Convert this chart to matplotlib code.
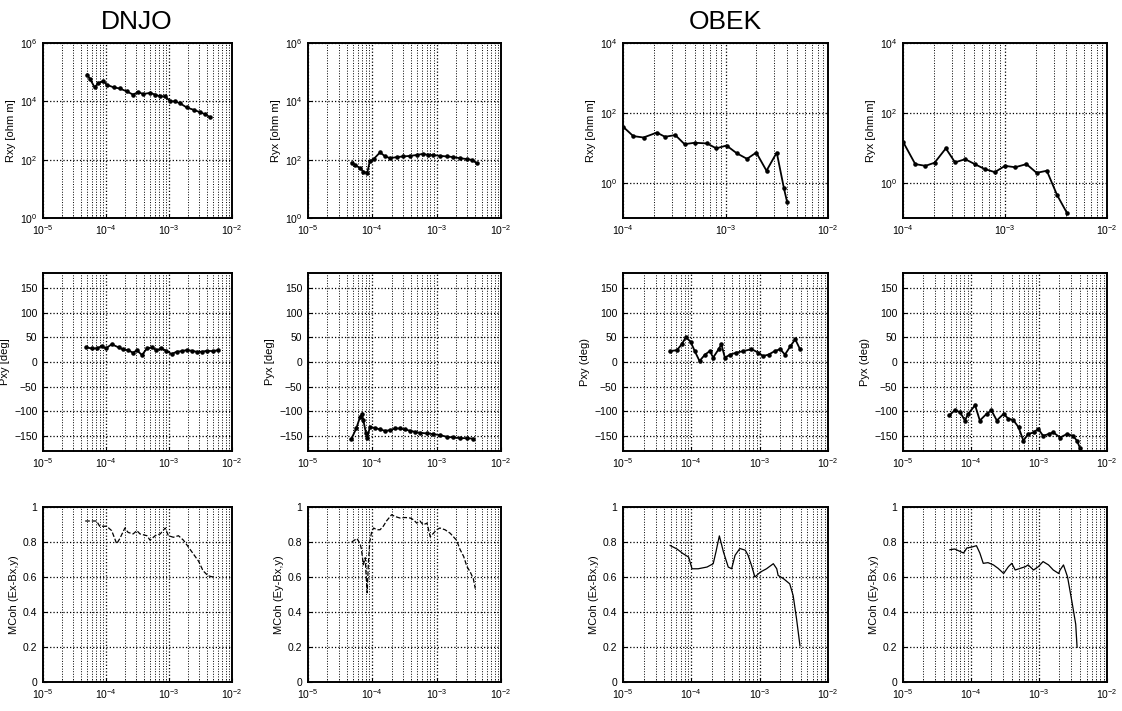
import numpy as np
import matplotlib
matplotlib.use('Agg')
import matplotlib.pyplot as plt
from matplotlib.ticker import LogLocator, NullLocator, LogFormatterMathtext, NullFormatter

# ---- data (log10 of frequency [Hz]) ----
# DNJO apparent resistivity
dnjo_rxy_logf = [-4.30, -4.25, -4.18, -4.12, -4.04, -3.99, -3.88, -3.78, -3.67, -3.57, -3.49, -3.41,
                 -3.30, -3.22, -3.14, -3.06, -2.98, -2.91, -2.83, -2.72, -2.61, -2.51, -2.43, -2.35]
dnjo_rxy_logr = [4.92, 4.75, 4.48, 4.63, 4.69, 4.57, 4.48, 4.44, 4.34, 4.23, 4.32, 4.25,
                 4.29, 4.23, 4.17, 4.17, 4.00, 4.00, 3.94, 3.79, 3.71, 3.63, 3.56, 3.46]
dnjo_ryx_logf = [-4.32, -4.27, -4.19, -4.14, -4.08, -4.04, -3.98, -3.88, -3.80, -3.72, -3.62, -3.52,
                 -3.41, -3.31, -3.21, -3.13, -3.05, -2.95, -2.84, -2.74, -2.64, -2.53, -2.45, -2.38]
dnjo_ryx_logr = [1.90, 1.82, 1.71, 1.59, 1.54, 1.94, 2.02, 2.25, 2.11, 2.05, 2.09, 2.11,
                 2.13, 2.16, 2.20, 2.16, 2.16, 2.13, 2.11, 2.09, 2.05, 2.02, 1.99, 1.88]

# OBEK apparent resistivity
obek_rxy_logf = [-4.00, -3.90, -3.80, -3.67, -3.59, -3.49, -3.40, -3.30, -3.18, -3.09, -2.99,
                 -2.89, -2.79, -2.70, -2.60, -2.50, -2.43, -2.40]
obek_rxy_logr = [1.61, 1.34, 1.30, 1.44, 1.32, 1.37, 1.11, 1.15, 1.13, 0.99, 1.07,
                 0.85, 0.69, 0.87, 0.35, 0.87, -0.15, -0.53]
obek_ryx_logf = [-4.00, -3.88, -3.78, -3.69, -3.58, -3.49, -3.39, -3.29, -3.20, -3.10, -3.00,
                 -2.90, -2.79, -2.69, -2.59, -2.49, -2.39]
obek_ryx_logr = [1.18, 0.54, 0.49, 0.58, 0.99, 0.59, 0.68, 0.53, 0.40, 0.31, 0.49,
                 0.45, 0.54, 0.29, 0.35, -0.34, -0.87]

# phases [deg]
dnjo_pxy_logf = [-4.31, -4.23, -4.15, -4.07, -4.00, -3.91, -3.80, -3.73, -3.65, -3.57, -3.51, -3.43,
                 -3.35, -3.27, -3.20, -3.12, -3.04, -2.96, -2.88, -2.80, -2.72, -2.64, -2.56, -2.48,
                 -2.40, -2.30, -2.22]
dnjo_pxy = [29.5, 27.5, 27.5, 32, 27.5, 36, 29.5, 25.5, 24, 18.6, 24, 14,
            27.5, 29.5, 24, 27.5, 22.7, 16, 20.7, 22, 24, 22.7, 20.7, 20.7,
            22.7, 22, 24]
dnjo_pyx_logf = [-4.33, -4.25, -4.19, -4.16, -4.14, -4.10, -4.08, -4.04, -3.96, -3.88, -3.80, -3.72,
                 -3.65, -3.57, -3.49, -3.41, -3.34, -3.26, -3.15, -3.05, -2.95, -2.84, -2.74, -2.64,
                 -2.53, -2.43]
dnjo_pyx = [-156.7, -134.4, -110.9, -105.4, -117.6, -143.2, -154.7, -132.4, -133.1, -136.5, -139.2, -137.8,
            -134.4, -134.4, -136.5, -139.2, -141.2, -143.2, -144.5, -145.9, -147.9, -151.3, -152.6, -154,
            -154, -155]
obek_pxy_logf = [-4.31, -4.21, -4.14, -4.08, -4.01, -3.95, -3.88, -3.80, -3.73, -3.68, -3.60, -3.56,
                 -3.51, -3.43, -3.34, -3.24, -3.12, -3.02, -2.95, -2.87, -2.78, -2.70, -2.63, -2.55,
                 -2.48, -2.41]
obek_pxy = [22, 24, 36, 50, 41, 22, 2, 15, 22, 9, 26, 36,
            9, 15, 19, 22, 26, 19, 12, 15, 22, 26, 15, 32,
            46, 26]
obek_pyx_logf = [-4.32, -4.24, -4.16, -4.09, -4.04, -3.94, -3.87, -3.77, -3.70, -3.62, -3.52, -3.45,
                 -3.38, -3.30, -3.23, -3.16, -3.08, -3.01, -2.94, -2.86, -2.79, -2.69, -2.59, -2.50,
                 -2.44, -2.40]
obek_pyx = [-108, -97.8, -101.3, -118.4, -104.7, -87.5, -118.4, -104.7, -97.8, -118.4, -104.7, -115,
            -117, -132.1, -159.2, -145.8, -142.4, -135.5, -149.2, -145.8, -142.4, -152.7, -145.8, -149.2,
            -159.5, -173.3]

# multiple coherences
dnjo_cohx_logf = [-4.33, -4.25, -4.15, -4.10, -3.99, -3.91, -3.83, -3.78, -3.70, -3.65, -3.57, -3.51,
                  -3.46, -3.35, -3.30, -3.22, -3.14, -3.06, -3.01, -2.93, -2.85, -2.77, -2.69, -2.61,
                  -2.53, -2.46, -2.38, -2.30]
dnjo_cohx = [0.92, 0.92, 0.92, 0.89, 0.89, 0.865, 0.79, 0.82, 0.88, 0.855, 0.846, 0.865,
             0.846, 0.836, 0.81, 0.836, 0.846, 0.88, 0.836, 0.827, 0.836, 0.81, 0.77, 0.73,
             0.69, 0.636, 0.607, 0.60]
dnjo_cohy_logf = [-4.32, -4.24, -4.19, -4.17, -4.14, -4.11, -4.10, -4.08, -4.06, -4.04, -4.01, -3.98,
                  -3.93, -3.88, -3.83, -3.78, -3.70, -3.65, -3.57, -3.49, -3.41, -3.36, -3.31, -3.26,
                  -3.21, -3.15, -3.10, -3.05, -3.00, -2.95, -2.87, -2.79, -2.74, -2.69, -2.64, -2.58,
                  -2.53, -2.48, -2.43, -2.40]
dnjo_cohy = [0.80, 0.82, 0.79, 0.76, 0.67, 0.71, 0.63, 0.51, 0.69, 0.80, 0.86, 0.88,
             0.87, 0.87, 0.89, 0.92, 0.956, 0.946, 0.937, 0.94, 0.937, 0.927, 0.908, 0.92,
             0.898, 0.908, 0.83, 0.85, 0.87, 0.88, 0.87, 0.85, 0.83, 0.81, 0.76, 0.717,
             0.66, 0.63, 0.59, 0.534]
obek_cohx_logf = [-4.31, -4.21, -4.12, -4.04, -3.99, -3.90, -3.77, -3.68, -3.64, -3.59, -3.53, -3.46,
                  -3.41, -3.36, -3.29, -3.21, -3.17, -3.12, -3.07, -2.99, -2.90, -2.80, -2.75, -2.73,
                  -2.65, -2.56, -2.51, -2.46, -2.41]
obek_cohx = [0.78, 0.76, 0.733, 0.714, 0.647, 0.647, 0.657, 0.676, 0.743, 0.835, 0.743, 0.657,
             0.647, 0.724, 0.763, 0.753, 0.724, 0.667, 0.60, 0.628, 0.647, 0.676, 0.647, 0.609,
             0.59, 0.561, 0.494, 0.36, 0.207]
obek_cohy_logf = [-4.31, -4.24, -4.16, -4.11, -4.06, -3.99, -3.92, -3.87, -3.82, -3.75, -3.67, -3.60,
                  -3.52, -3.45, -3.40, -3.35, -3.28, -3.20, -3.16, -3.08, -3.01, -2.94, -2.86, -2.79,
                  -2.71, -2.69, -2.64, -2.58, -2.51, -2.46, -2.44]
obek_cohy = [0.756, 0.76, 0.746, 0.737, 0.766, 0.771, 0.779, 0.737, 0.678, 0.682, 0.669, 0.649,
             0.62, 0.659, 0.678, 0.64, 0.649, 0.659, 0.669, 0.64, 0.659, 0.688, 0.669, 0.64,
             0.62, 0.64, 0.669, 0.60, 0.446, 0.33, 0.198]

ylabels = [['Rxy [ohm m]', 'Ryx [ohm m]', 'Rxy [ohm m]', 'Ryx [ohm.m]'],
           ['Pxy [deg]', 'Pyx [deg]', 'Pxy (deg)', 'Pyx (deg)'],
           ['MCoh (Ex-Bx,y)', 'MCoh (Ey-Bx,y)', 'MCoh (Ex-Bx,y)', 'MCoh (Ey-Bx,y)']]
station_names = ['DNJO', 'OBEK']

# axes boxes in pixels (left, top, width, height) of the 1122x711 figure
COL_X = [(43, 189), (308, 193), (623, 205), (903, 204)]
ROW_Y = [(43, 175), (273, 178), (507, 175)]
W, H = 1122., 711.


def style_axes(ax, xlim):
    ax.set_xscale('log')
    ax.set_xlim(xlim)
    ax.xaxis.set_major_locator(LogLocator(base=10, numticks=10))
    ax.xaxis.set_minor_locator(LogLocator(base=10, subs=np.arange(2, 10), numticks=20))
    ax.xaxis.set_minor_formatter(NullFormatter())
    ax.grid(True, which='major', ls=':', color='k', lw=0.9)
    ax.grid(True, which='minor', axis='x', ls=':', color='k', lw=0.7)
    ax.tick_params(which='both', direction='in', labelsize=7.5, length=3, pad=4)
    ax.tick_params(which='minor', length=1.5)
    for s in ax.spines.values():
        s.set_linewidth(1.4)


def main():
    plt.rcParams['font.family'] = ['Liberation Sans', 'DejaVu Sans']
    fig = plt.figure(figsize=(W / 100, H / 100), dpi=100)

    rho = [(dnjo_rxy_logf, dnjo_rxy_logr), (dnjo_ryx_logf, dnjo_ryx_logr),
           (obek_rxy_logf, obek_rxy_logr), (obek_ryx_logf, obek_ryx_logr)]
    pha = [(dnjo_pxy_logf, dnjo_pxy), (dnjo_pyx_logf, dnjo_pyx),
           (obek_pxy_logf, obek_pxy), (obek_pyx_logf, obek_pyx)]
    coh = [(dnjo_cohx_logf, dnjo_cohx), (dnjo_cohy_logf, dnjo_cohy),
           (obek_cohx_logf, obek_cohx), (obek_cohy_logf, obek_cohy)]

    for c in range(4):
        left, width = COL_X[c]
        axs = []
        for r in range(3):
            top, height = ROW_Y[r]
            axs.append(fig.add_axes([left / W, 1 - (top + height) / H, width / W, height / H]))

        # resistivity
        ax = axs[0]
        lf, lr = rho[c]
        ax.plot(10 ** np.array(lf), 10 ** np.array(lr), 'k.-', lw=1.3, ms=4.5)
        ax.set_yscale('log')
        if c < 2:
            style_axes(ax, (1e-5, 1e-2))
            ax.set_ylim(1e0, 1e6)
            ax.set_yticks([1e0, 1e2, 1e4, 1e6])
        else:
            style_axes(ax, (1e-4, 1e-2))
            ax.set_ylim(1e-1, 1e4)
            ax.set_yticks([1e0, 1e2, 1e4])
        ax.yaxis.set_major_formatter(LogFormatterMathtext())
        ax.yaxis.set_minor_locator(NullLocator())

        # phase
        ax = axs[1]
        lf, p = pha[c]
        ax.plot(10 ** np.array(lf), p, 'k.-', lw=1.3, ms=4.5)
        style_axes(ax, (1e-5, 1e-2))
        ax.set_ylim(-180, 180)
        ax.set_yticks([-150, -100, -50, 0, 50, 100, 150])

        # coherence
        ax = axs[2]
        lf, m = coh[c]
        ax.plot(10 ** np.array(lf), m, color='k', lw=0.9, ls='--' if c < 2 else '-')
        style_axes(ax, (1e-5, 1e-2))
        ax.set_ylim(0, 1)
        ax.set_yticks([0, 0.2, 0.4, 0.6, 0.8, 1])
        ax.set_yticklabels(['0', '0.2', '0.4', '0.6', '0.8', '1'])

        for r in range(3):
            axs[r].set_ylabel(ylabels[r][c], fontsize=8, labelpad=3)

    for name, xc in zip(station_names, [137, 725]):
        fig.text(xc / W, 1 - 22 / H, name, ha='center', va='center', fontsize=19,
                 family=['Liberation Sans Narrow', 'Liberation Sans', 'DejaVu Sans'])

    fig.savefig('out.png', dpi=100)


if __name__ == '__main__':
    main()
